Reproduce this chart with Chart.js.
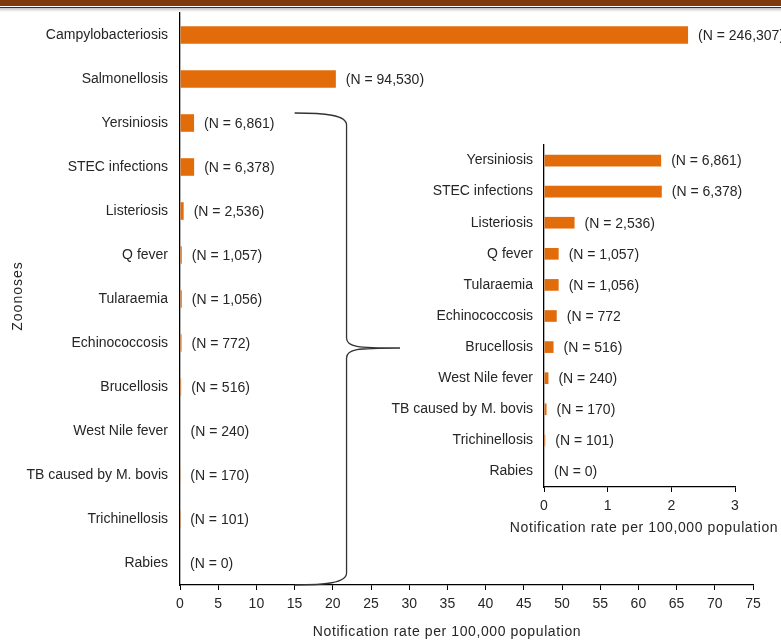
<!DOCTYPE html>
<html>
<head>
<meta charset="utf-8">
<script src="https://cdn.jsdelivr.net/npm/chart.js@4"></script>
<style>
    body { margin: 0; background: #fff; }
    #wrap { position: relative; width: 781px; height: 641px; overflow: hidden; }
    #header { position: absolute; left: 0; top: 0; width: 781px; z-index: 5; }
    #header .band { height: 6px; background: #7e3b0e; }
    #header .gap { height: 1px; background: #fff; }
    #header .line { height: 1px; background: #5e2a08; }
    #header .shadow { height: 4px; background: linear-gradient(#c4c4c4, #fff); }
    #mainChart { position: absolute; left: 0; top: 0; }
    #insetChart { position: absolute; left: 380px; top: 135px; }
</style>
</head>
<body>
<div id="wrap">
    <div id="header"><div class="band"></div><div class="gap"></div><div class="line"></div><div class="shadow"></div></div>
    <canvas id="mainChart" width="781" height="641"></canvas>
    <canvas id="insetChart" width="401" height="410"></canvas>
</div>
<script>
// Zoonoses, notification rate per 100,000 population
const diseases = ['Campylobacteriosis', 'Salmonellosis', 'Yersiniosis', 'STEC infections', 'Listeriosis',
    'Q fever', 'Tularaemia', 'Echinococcosis', 'Brucellosis', 'West Nile fever',
    'TB caused by M. bovis', 'Trichinellosis', 'Rabies'];
const rates = [66.5, 20.4, 1.84, 1.85, 0.48, 0.23, 0.23, 0.2, 0.15, 0.07, 0.04, 0.02, 0];
const cases = [246307, 94530, 6861, 6378, 2536, 1057, 1056, 772, 516, 240, 170, 101, 0];

// the inset zooms in on everything after Salmonellosis
const insetDiseases = diseases.slice(2);
const insetRates = rates.slice(2);
const insetLabels = ['(N = 6,861)', '(N = 6,378)', '(N = 2,536)', '(N = 1,057)', '(N = 1,056)',
    '(N = 772', '(N = 516)', '(N = 240)', '(N = 170)', '(N = 101)', '(N = 0)'];

const mainLabels = cases.map(n => '(N = ' + n.toLocaleString('en-US') + ')');

const xTitle = 'Notification rate per 100,000 population';
const yTitle = 'Zoonoses';

const FONT = 'Liberation Sans, Arial, sans-serif';
const TEXT = '#262626';
const ORANGE = '#e36c0a';

// writes "(N = ...)" after each bar
const nLabelsPlugin = {
    id: 'nLabels',
    afterDatasetsDraw(chart, args, opts) {
        const ctx = chart.ctx;
        const meta = chart.getDatasetMeta(0);
        ctx.save();
        ctx.font = '14px ' + FONT;
        ctx.fillStyle = TEXT;
        ctx.textAlign = 'left';
        ctx.textBaseline = 'middle';
        meta.data.forEach((bar, i) => {
            ctx.fillText(opts.labels[i], bar.x + 10, bar.y + 1);
        });
        ctx.restore();
    }
};

// axis titles drawn by hand (chart.js squeezes them to the axis width)
const titlesPlugin = {
    id: 'axisTitles',
    afterDraw(chart, args, opts) {
        const ctx = chart.ctx;
        const area = chart.chartArea;
        ctx.save();
        ctx.font = '14px ' + FONT;
        ctx.fillStyle = TEXT;
        ctx.textAlign = 'center';
        ctx.textBaseline = 'middle';
        ctx.letterSpacing = '0.6px';
        if (opts.x) {
            ctx.fillText(opts.x.text, area.left + opts.x.dx, area.bottom + opts.x.dy);
        }
        if (opts.y) {
            ctx.translate(opts.y.x, (area.top + area.bottom) / 2 + opts.y.dy);
            ctx.rotate(-Math.PI / 2);
            ctx.letterSpacing = '1px';
            ctx.fillText(opts.y.text, 0, 0);
        }
        ctx.restore();
    }
};

// curly brace from the small zoonoses towards the inset
const bracePlugin = {
    id: 'brace',
    afterDraw(chart) {
        const x = chart.scales.x, y = chart.scales.y;
        const ctx = chart.ctx;
        const x0 = x.getPixelForValue(15), x1 = x.getPixelForValue(21.8), x2 = x.getPixelForValue(28.8);
        const yTop = y.getPixelForValue(2) - 10;
        const yTip = y.getPixelForValue(7) + 5;
        const yBot = chart.chartArea.bottom;
        ctx.save();
        ctx.strokeStyle = '#333';
        ctx.lineWidth = 1.3;
        ctx.beginPath();
        ctx.moveTo(x0, yTop);
        ctx.bezierCurveTo(x0 + 30, yTop, x1, yTop + 2, x1, yTop + 12);
        ctx.lineTo(x1, yTip - 10);
        ctx.bezierCurveTo(x1, yTip - 1, x1 + 10, yTip, x2, yTip);
        ctx.bezierCurveTo(x1 + 10, yTip, x1, yTip + 1, x1, yTip + 10);
        ctx.lineTo(x1, yBot - 12);
        ctx.bezierCurveTo(x1, yBot - 2, x0 + 30, yBot, x0, yBot);
        ctx.stroke();
        ctx.restore();
    }
};

function noEdgePadding(scale) {
    scale.paddingTop = 0;
    scale.paddingBottom = 0;
}

new Chart(document.getElementById('mainChart'), {
    type: 'bar',
    data: {
        labels: diseases,
        datasets: [{
            data: rates,
            backgroundColor: ORANGE,
            borderWidth: 0,
            barPercentage: 0.4,
            categoryPercentage: 1
        }]
    },
    options: {
        indexAxis: 'y',
        responsive: false,
        animation: false,
        layout: { padding: { top: 13, right: 28, bottom: 0, left: 0 } },
        plugins: {
            legend: { display: false },
            tooltip: { enabled: false },
            nLabels: { labels: mainLabels },
            axisTitles: { x: { text: xTitle, dx: 267, dy: 47 }, y: { text: yTitle, x: 18, dy: -3 } }
        },
        scales: {
            x: {
                min: 0,
                max: 75,
                ticks: { stepSize: 5, color: TEXT, padding: 6, maxRotation: 0, font: { family: FONT, size: 14 } },
                grid: { drawOnChartArea: false, drawTicks: true, tickLength: 5, color: '#000' },
                border: { display: true, color: '#000', width: 1.3 },
                afterFit(scale) { scale.height = 56; }
            },
            y: {
                ticks: { color: TEXT, padding: 12, font: { family: FONT, size: 14 } },
                grid: { display: false, drawTicks: false },
                border: { display: true, color: '#000', width: 1.3 },
                afterFit(scale) { scale.width = 180; noEdgePadding(scale); }
            }
        }
    },
    plugins: [nLabelsPlugin, titlesPlugin, bracePlugin]
});

new Chart(document.getElementById('insetChart'), {
    type: 'bar',
    data: {
        labels: insetDiseases,
        datasets: [{
            data: insetRates,
            backgroundColor: ORANGE,
            borderWidth: 0,
            barPercentage: 0.375,
            categoryPercentage: 1
        }]
    },
    options: {
        indexAxis: 'y',
        responsive: false,
        animation: false,
        layout: { padding: { top: 10, right: 46, bottom: 0, left: 0 } },
        plugins: {
            legend: { display: false },
            tooltip: { enabled: false },
            nLabels: { labels: insetLabels },
            axisTitles: { x: { text: xTitle, dx: 100, dy: 41 } }
        },
        scales: {
            x: {
                min: 0,
                max: 3,
                ticks: { stepSize: 1, color: TEXT, padding: 6, maxRotation: 0, font: { family: FONT, size: 14 } },
                grid: { drawOnChartArea: false, drawTicks: true, tickLength: 5, color: '#000' },
                border: { display: true, color: '#000', width: 1.3 },
                afterFit(scale) { scale.height = 58; }
            },
            y: {
                ticks: { color: TEXT, padding: 11, font: { family: FONT, size: 14 } },
                grid: { display: false, drawTicks: false },
                border: { display: true, color: '#000', width: 1.3 },
                afterFit(scale) { scale.width = 164; noEdgePadding(scale); }
            }
        }
    },
    plugins: [nLabelsPlugin, titlesPlugin]
});
</script>
</body>
</html>
